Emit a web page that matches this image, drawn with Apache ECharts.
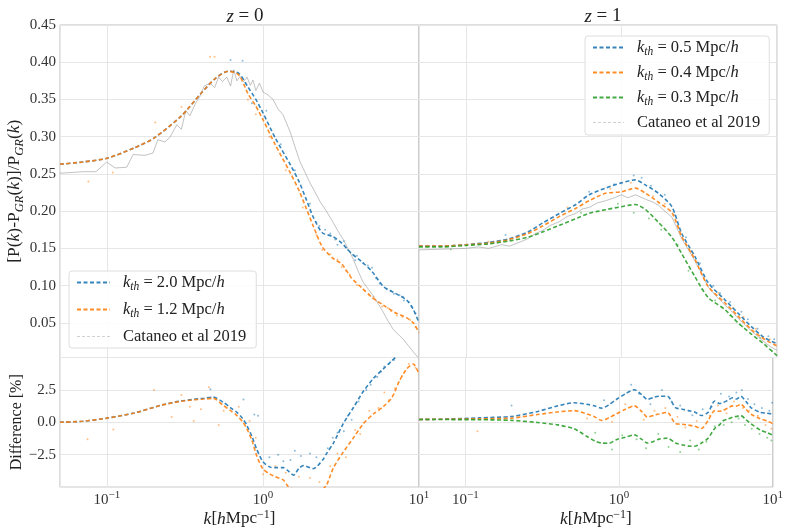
<!DOCTYPE html>
<html><head><meta charset="utf-8">
<script src="https://cdn.jsdelivr.net/npm/echarts@6/dist/echarts.min.js"></script>
<style>html,body{margin:0;padding:0;background:#fff}#c{width:786px;height:529px}</style>
</head><body><div id="c"></div>
<script>
// ---------- data ----------
const kTL = [0.05,0.07,0.1,0.15,0.2,0.3,0.4,0.5,0.6,0.7,0.8,0.9,1.0,1.2,1.5,1.7,1.9,2.1,2.4,2.8,3.2,3.7,4.3,5.0,5.9,7.0,8.3,9.2,10];
const tlBlue = [0.263,0.266,0.271,0.285,0.298,0.328,0.358,0.379,0.388,0.385,0.367,0.350,0.332,0.298,0.262,0.240,0.215,0.192,0.171,0.166,0.157,0.143,0.132,0.119,0.099,0.090,0.081,0.068,0.050];
const tlOrange = [0.263,0.266,0.271,0.285,0.298,0.328,0.358,0.379,0.388,0.383,0.358,0.341,0.323,0.289,0.251,0.228,0.203,0.180,0.152,0.137,0.129,0.110,0.097,0.084,0.074,0.064,0.057,0.050,0.037];
const kTLg = [0.05,0.06,0.07,0.085,0.0995,0.113,0.134,0.147,0.175,0.197,0.212,0.235,0.253,0.28,0.30,0.32,0.34,0.37,0.394,0.42,0.458,0.49,0.52,0.55,0.586,0.62,0.65,0.68,0.713,0.75,0.79,0.83,0.863,0.9,0.95,1.0,1.08,1.16,1.25,1.34,1.49,1.6,1.73,1.86,2.0,2.15,2.32,2.55,2.83,3.05,3.27,3.5,3.8,4.1,4.4,4.75,5.1,5.5,5.91,6.35,6.85,7.4,7.94,8.5,9.2,10];
const tlGray = [0.251,0.252,0.253,0.253,0.266,0.258,0.259,0.276,0.275,0.278,0.296,0.293,0.299,0.316,0.310,0.335,0.328,0.345,0.354,0.368,0.372,0.366,0.380,0.374,0.380,0.368,0.390,0.375,0.381,0.374,0.380,0.369,0.376,0.362,0.372,0.360,0.356,0.350,0.337,0.330,0.307,0.287,0.266,0.252,0.238,0.226,0.213,0.200,0.184,0.172,0.162,0.150,0.135,0.118,0.104,0.095,0.086,0.075,0.064,0.052,0.041,0.034,0.028,0.020,0.011,0.002];

const kBL = [0.05,0.07,0.1,0.15,0.22,0.29,0.35,0.42,0.48,0.557,0.62,0.68,0.74,0.787,0.85,0.912,1.0,1.11,1.2,1.35,1.45,1.57,1.7,1.82,2.1,2.44,2.56,2.83,3.27,3.8,4.4,5.1,5.9,6.7,7.5,8.34,9.2,10];
const blBlue = [0.0,0.08,0.32,0.72,1.30,1.62,1.75,1.86,1.94,1.55,1.12,0.77,0.30,-0.22,-1.1,-2.09,-3.05,-3.46,-3.50,-3.50,-3.75,-4.08,-3.55,-3.33,-3.58,-2.83,-2.4,-1.6,-0.1,1.14,2.39,3.38,4.12,4.75,5.3,5.8,6.0,6.2];
const blOrange = [0.0,0.08,0.32,0.72,1.30,1.60,1.72,1.80,1.85,1.30,0.90,0.52,0.05,-0.48,-1.4,-2.59,-3.6,-4.0,-4.2,-4.45,-4.95,-5.2,-5.3,-5.3,-5.25,-5.1,-4.83,-3.5,-2.3,-1.2,-0.1,0.64,1.2,1.9,3.2,4.12,4.5,3.7];

const kTR = [0.05,0.07,0.1,0.14,0.19,0.25,0.311,0.4,0.51,0.62,0.79,1.0,1.23,1.43,1.73,2.11,2.44,2.97,3.61,4.62,5.62,6.84,8.3,10];
const trBlue = [0.153,0.153,0.155,0.158,0.163,0.172,0.184,0.197,0.209,0.222,0.231,0.238,0.242,0.235,0.224,0.206,0.170,0.139,0.104,0.081,0.063,0.045,0.030,0.022];
const trOrange = [0.153,0.153,0.155,0.157,0.162,0.170,0.180,0.193,0.204,0.214,0.224,0.226,0.231,0.224,0.212,0.198,0.166,0.135,0.099,0.077,0.059,0.041,0.028,0.019];
const trGreen = [0.152,0.152,0.154,0.156,0.160,0.165,0.172,0.181,0.190,0.197,0.202,0.206,0.209,0.202,0.185,0.165,0.143,0.112,0.084,0.068,0.050,0.035,0.021,0.006];
const kTRg = [0.05,0.07,0.1,0.12,0.14,0.17,0.19,0.22,0.25,0.28,0.311,0.35,0.4,0.45,0.51,0.56,0.62,0.7,0.79,0.9,1.0,1.1,1.23,1.43,1.6,1.73,1.9,2.11,2.3,2.44,2.7,2.97,3.3,3.61,4.1,4.62,5.1,5.62,6.2,6.84,7.5,8.3,9.1,10];
const trGray = [0.148,0.149,0.150,0.152,0.150,0.155,0.153,0.158,0.163,0.170,0.174,0.181,0.186,0.193,0.197,0.203,0.205,0.211,0.214,0.218,0.222,0.218,0.222,0.216,0.212,0.208,0.200,0.192,0.175,0.163,0.148,0.133,0.115,0.098,0.085,0.074,0.066,0.056,0.048,0.039,0.032,0.024,0.018,0.013];

const kBR = [0.05,0.08,0.123,0.2,0.296,0.4,0.51,0.62,0.7,0.77,0.86,0.96,1.1,1.26,1.4,1.53,1.7,1.82,2.06,2.33,2.6,2.83,3.1,3.44,3.8,4.19,4.5,4.73,5.1,5.48,5.8,6.2,6.7,7.2,8.3,9.2,10];
const brBlue = [0.22,0.25,0.34,0.45,0.84,1.27,1.51,1.39,1.25,1.09,1.35,1.76,2.2,2.51,2.15,1.76,1.95,2.01,2.01,1.14,1.0,0.9,0.8,0.52,0.77,1.64,1.45,1.51,1.7,1.89,1.8,2.01,1.6,1.14,0.77,0.7,0.64];
const brOrange = [0.22,0.24,0.27,0.32,0.60,0.80,0.90,0.64,0.40,0.15,0.35,0.64,1.0,1.27,0.85,0.40,0.55,0.64,0.77,-0.10,-0.15,-0.22,-0.30,-0.48,0.15,0.90,0.85,0.90,1.10,1.27,1.25,1.39,1.0,0.64,0.27,0.10,-0.10];
const brGreen = [0.22,0.21,0.20,0.15,-0.02,-0.20,-0.50,-1.10,-1.45,-1.60,-1.62,-1.34,-1.15,-0.97,-1.30,-1.60,-1.45,-1.30,-1.22,-1.60,-1.75,-1.84,-1.85,-1.60,-1.22,-0.48,-0.20,0.10,0.25,0.40,0.45,0.52,0.20,-0.10,-0.60,-0.80,-1.00];

// scattered noisy points [k, value]
const tlBlueDots = [[0.62,0.403],[0.74,0.402],[0.85,0.345],[1.05,0.335],[1.3,0.29],[1.6,0.255],[2.0,0.21],[2.2,0.185],[2.3,0.18],[2.5,0.175],[2.7,0.17],[2.9,0.162],[3.0,0.155],[3.3,0.16],[3.5,0.148],[3.9,0.134],[4.0,0.14],[4.4,0.13],[4.7,0.127],[5.0,0.124],[5.3,0.11],[5.6,0.103],[6.2,0.095],[6.6,0.093],[6.9,0.089],[7.5,0.087],[7.9,0.085],[8.0,0.08],[8.6,0.078],[9.0,0.072],[9.5,0.063]];
const tlOrangeDots = [[0.076,0.24],[0.109,0.252],[0.204,0.319],[0.30,0.34],[0.458,0.4075],[0.49,0.4075],[0.8,0.35],[0.9,0.33],[1.1,0.30],[1.4,0.255],[1.8,0.205],[2.2,0.168],[2.4,0.148],[2.7,0.142],[3.0,0.135],[3.2,0.125],[3.4,0.12],[3.6,0.115],[4.0,0.101],[4.5,0.093],[4.8,0.088],[5.1,0.085],[5.3,0.08],[5.8,0.072],[6.3,0.07],[6.6,0.066],[7.2,0.06],[7.8,0.058],[8.8,0.054],[9.5,0.044]];
const blBlueDots = [[0.46,2.55],[0.75,1.75],[0.88,0.6],[0.93,0.5],[1.1,-2.7],[1.25,-2.5],[1.35,-3.0],[1.5,-2.9],[1.6,-2.2],[1.75,-2.6],[2.0,-2.4],[2.2,-2.7],[2.6,-2.0],[2.8,-1.2],[3.0,-0.8],[3.3,-0.7],[3.5,0.5],[3.7,0.2],[4.1,1.6],[4.6,2.5],[4.9,2.9],[5.4,3.5],[5.7,3.9],[6.0,4.3],[6.4,4.5],[6.9,4.8]];
const blOrangeDots = [[0.075,-1.3],[0.11,-0.55],[0.2,2.5],[0.26,0.4],[0.3,2.1],[0.34,1.2],[0.36,0.1],[0.4,1.0],[0.45,2.7],[0.52,-0.2],[0.56,0.9],[0.7,1.2],[0.82,0.1],[0.9,-1.2],[1.0,-4.0],[1.2,-3.4],[1.4,-3.9],[1.7,-4.2],[2.0,-4.3],[2.3,-4.6],[2.7,-3.4],[3.0,-2.4],[3.4,-2.7],[3.9,-0.6],[4.2,-0.9],[4.8,0.9],[5.5,1.1],[6.0,2.3],[6.4,1.7],[7.0,2.6],[7.8,3.6],[8.6,4.5],[9.5,4.2]];
const trBlueDots = [[0.18,0.168],[0.62,0.226],[0.9,0.236],[1.2,0.248],[1.35,0.245],[1.55,0.234],[1.9,0.222],[2.2,0.195],[2.6,0.165],[3.2,0.13],[3.9,0.1],[4.3,0.09],[5.0,0.078],[5.9,0.065],[6.5,0.055],[7.5,0.042],[8.8,0.032],[9.6,0.028]];
const trOrangeDots = [[0.14,0.159],[0.45,0.205],[0.85,0.23],[1.15,0.238],[1.6,0.22],[1.9,0.21],[2.3,0.18],[2.8,0.145],[3.4,0.11],[4.2,0.09],[5.2,0.07],[6.1,0.058],[7.3,0.042],[9.0,0.028]];
const trGreenDots = [[0.08,0.149],[0.55,0.198],[0.95,0.21],[1.2,0.198],[1.5,0.19],[1.8,0.175],[2.3,0.155],[2.7,0.12],[3.3,0.095],[4.0,0.08],[5.0,0.06],[6.0,0.045],[7.8,0.03],[9.3,0.012]];
const brBlueDots = [[0.2,1.3],[0.8,1.7],[1.2,2.9],[1.35,2.2],[1.6,1.4],[1.9,2.5],[2.2,1.6],[2.5,1.3],[3.0,0.55],[3.5,1.0],[4.0,1.2],[4.6,2.2],[5.2,2.0],[5.8,2.3],[6.3,2.5],[6.9,1.8],[7.6,1.4],[8.5,1.1],[9.5,0.9],[9.9,1.5]];
const brOrangeDots = [[0.12,-0.7],[0.62,0.3],[0.9,0.05],[1.1,1.4],[1.45,0.2],[1.7,0.9],[2.0,1.1],[2.4,0.4],[2.7,-0.4],[3.2,0.1],[3.9,0.5],[4.4,1.3],[5.0,0.7],[5.6,1.6],[6.4,1.1],[7.0,0.9],[8.0,0.5],[9.0,-0.2],[9.8,-0.5]];
const brGreenDots = [[0.7,-0.8],[0.9,-2.1],[1.05,-1.0],[1.3,-1.3],[1.5,-2.0],[1.8,-0.9],[2.1,-1.9],[2.5,-2.3],[2.9,-1.4],[3.3,-2.1],[3.7,-1.5],[4.2,-0.3],[4.8,-0.2],[5.4,0.0],[6.0,0.3],[6.6,-0.2],[7.3,-0.5],[8.2,-0.9],[9.2,-1.2],[9.8,-1.4]];

const legendText = {
  k20: '{i|k}{s|th} = 2.0 Mpc/{i|h}',
  k12: '{i|k}{s|th} = 1.2 Mpc/{i|h}',
  k05: '{i|k}{s|th} = 0.5 Mpc/{i|h}',
  k04: '{i|k}{s|th} = 0.4 Mpc/{i|h}',
  k03: '{i|k}{s|th} = 0.3 Mpc/{i|h}',
  cat0: 'Cataneo et al 2019',
  cat1: 'Cataneo et al 2019'
};

// ---------- chart ----------
const FONT = 'Liberation Serif';
const BLUE = '#1f77b4', ORANGE = '#ff7f0e', GREEN = '#2ca02c', GRAY = '#9a9a9a';
const pairs = (ks, vs) => ks.map((k, i) => [k, vs[i]]);
const richBase = {
  i: {fontFamily: FONT, fontStyle: 'italic', fontSize: 16.5, color: '#222'},
  s: {fontFamily: FONT, fontStyle: 'italic', fontSize: 11.5, color: '#222', padding: [9, 0, 0, 0]},
  p: {fontFamily: FONT, fontSize: 11, color: '#333', padding: [0, 0, 9, 0]}
};
const richName = {
  i: {fontFamily: FONT, fontStyle: 'italic', fontSize: 17.5, color: '#222'},
  s: {fontFamily: FONT, fontStyle: 'italic', fontSize: 12.5, color: '#222', padding: [10, 0, 0, 0]},
  p: {fontFamily: FONT, fontSize: 12, color: '#222', padding: [0, 0, 9, 0]}
};

function dashLine(name, g, ks, vs, color) {
  return {type: 'line', name, xAxisIndex: g, yAxisIndex: g, data: pairs(ks, vs),
    symbol: 'none', showSymbol: false, smooth: 0.25, z: 4,
    lineStyle: {color, width: 1.6, type: [4, 2.5], opacity: 0.9}, itemStyle: {color}};
}
function grayLine(name, g, ks, vs) {
  return {type: 'line', name, xAxisIndex: g, yAxisIndex: g, data: pairs(ks, vs),
    symbol: 'none', showSymbol: false, z: 3,
    lineStyle: {color: GRAY, width: 1, type: 'solid', opacity: 0.6}, itemStyle: {color: GRAY}};
}
function dots(name, g, d, color) {
  return {type: 'scatter', name, xAxisIndex: g, yAxisIndex: g, data: d, symbolSize: 2,
    silent: true, z: 2, itemStyle: {color, opacity: 0.5}};
}

const grids = [
  {left: 60, top: 25, width: 359, height: 332.5},
  {left: 419, top: 25, width: 358, height: 332.5},
  {left: 60, top: 357.5, width: 359, height: 134},
  {left: 419, top: 357.5, width: 358, height: 134}
].map(g => Object.assign(g, {show: true, borderColor: '#bdbdbd', borderWidth: 1, containLabel: false}));

const splitL = {show: true, lineStyle: {color: '#e6e6e6', width: 1}};
function xAx(g, showLabel) {
  return {type: 'log', logBase: 10, gridIndex: g, min: 0.05, max: 10,
    axisLine: {show: false}, axisTick: {show: false}, minorTick: {show: false}, splitLine: splitL,
    axisLabel: {show: showLabel, margin: 3, fontFamily: FONT, fontSize: 15, color: '#333',
      showMinLabel: false,
      formatter: v => {
        const e = Math.log10(v);
        if (Math.abs(e - Math.round(e)) > 1e-6) return '';
        const r = Math.round(e);
        return '10{p|' + (r < 0 ? '\u2212' + (-r) : r) + '}';
      },
      rich: richBase},
    name: showLabel ? '{i|k}[{i|h}Mpc{p|\u22121}]' : '', nameLocation: 'middle', nameGap: 20,
    nameTextStyle: {fontFamily: FONT, fontSize: 17, color: '#222', rich: richName}};
}
function yTop(g, showLabel) {
  return {type: 'value', gridIndex: g, min: 0.0035, max: 0.45, splitNumber: 9,
    axisLine: {show: false}, axisTick: {show: false}, splitLine: splitL,
    axisLabel: {show: showLabel, margin: 4, fontFamily: FONT, fontSize: 15, color: '#333',
      showMinLabel: false,
      formatter: v => (Math.abs(v / 0.05 - Math.round(v / 0.05)) > 1e-6) ? '' : v.toFixed(2)},
    name: showLabel ? '[P({i|k})-P{s|GR}({i|k})]/P{s|GR}({i|k})' : '', nameLocation: 'middle', nameGap: 30,
    nameTextStyle: {fontFamily: FONT, fontSize: 17.5, color: '#222', rich: richName}};
}
function yBot(g, showLabel) {
  return {type: 'value', gridIndex: g, min: -5, max: 5, interval: 2.5,
    axisLine: {show: false}, axisTick: {show: false}, splitLine: splitL,
    axisLabel: {show: showLabel, margin: 4, fontFamily: FONT, fontSize: 15, color: '#333',
      showMinLabel: false, showMaxLabel: false,
      formatter: v => (v < 0 ? '\u2212' + Math.abs(v).toFixed(1) : v.toFixed(1))},
    name: showLabel ? 'Difference [%]' : '', nameLocation: 'middle', nameGap: 32,
    nameTextStyle: {fontFamily: FONT, fontSize: 16, color: '#222'}};
}

const legendCommon = {
  orient: 'vertical', itemHeight: 16,
  backgroundColor: 'rgba(255,255,255,0.85)', borderColor: '#dedede', borderWidth: 1, borderRadius: 3,
  formatter: n => legendText[n],
  itemStyle: {opacity: 0},
  textStyle: {fontFamily: FONT, fontSize: 16.5, color: '#222', padding: [0, 0, 0, 8], rich: richBase},
  selectedMode: false
};
const catLegendLine = {type: [3, 2], width: 1, opacity: 0.45};

const option = {
  animation: false,
  backgroundColor: '#fff',
  title: [
    {text: '{i|z} = 0', left: 240, top: 2, textAlign: 'center',
      textStyle: {fontFamily: FONT, fontSize: 19, fontWeight: 'normal', color: '#222',
        rich: {i: {fontFamily: FONT, fontStyle: 'italic', fontSize: 19, color: '#222'}}}},
    {text: '{i|z} = 1', left: 598, top: 2, textAlign: 'center',
      textStyle: {fontFamily: FONT, fontSize: 19, fontWeight: 'normal', color: '#222',
        rich: {i: {fontFamily: FONT, fontStyle: 'italic', fontSize: 19, color: '#222'}}}}
  ],
  legend: [
    Object.assign({}, legendCommon, {data: ['k20', 'k12', {name: 'cat0', lineStyle: catLegendLine}], left: 69, top: 271,
      itemWidth: 33, itemGap: 8, padding: [3, 10, 3, 7]}),
    Object.assign({}, legendCommon, {data: ['k05', 'k04', 'k03', {name: 'cat1', lineStyle: catLegendLine}], left: 585, top: 36,
      itemWidth: 31, itemGap: 6, padding: [3, 9, 4, 7]})
  ],
  grid: grids,
  xAxis: [xAx(0, false), xAx(1, false), xAx(2, true), xAx(3, true)],
  yAxis: [yTop(0, true), yTop(1, false), yBot(2, true), yBot(3, false)],
  series: [
    dots('d_tl_b', 0, tlBlueDots, BLUE), dots('d_tl_o', 0, tlOrangeDots, ORANGE),
    grayLine('cat0', 0, kTLg, tlGray),
    dashLine('k20', 0, kTL, tlBlue, BLUE), dashLine('k12', 0, kTL, tlOrange, ORANGE),

    dots('d_tr_b', 1, trBlueDots, BLUE), dots('d_tr_o', 1, trOrangeDots, ORANGE), dots('d_tr_g', 1, trGreenDots, GREEN),
    grayLine('cat1', 1, kTRg, trGray),
    dashLine('k05', 1, kTR, trBlue, BLUE), dashLine('k04', 1, kTR, trOrange, ORANGE), dashLine('k03', 1, kTR, trGreen, GREEN),

    dots('d_bl_b', 2, blBlueDots, BLUE), dots('d_bl_o', 2, blOrangeDots, ORANGE),
    dashLine('bl_b', 2, kBL, blBlue, BLUE), dashLine('bl_o', 2, kBL, blOrange, ORANGE),

    dots('d_br_b', 3, brBlueDots, BLUE), dots('d_br_o', 3, brOrangeDots, ORANGE), dots('d_br_g', 3, brGreenDots, GREEN),
    dashLine('br_b', 3, kBR, brBlue, BLUE), dashLine('br_o', 3, kBR, brOrange, ORANGE), dashLine('br_g', 3, kBR, brGreen, GREEN)
  ]
};
const chart = echarts.init(document.getElementById('c'), null, {renderer: 'canvas'});
chart.setOption(option);
</script></body></html>
